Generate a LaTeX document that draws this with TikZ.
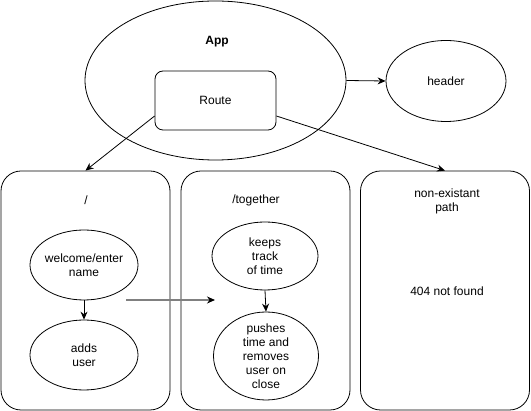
\documentclass[tikz,border=0pt]{standalone}
\usepackage{fontspec}
\setmainfont{Liberation Sans}
\usetikzlibrary{shapes.geometric,arrows.meta}

\begin{document}
\begin{tikzpicture}[x=1pt,y=-1pt,font=\fontsize{12}{14}\selectfont,
    elipse/.style={draw,ellipse,line width=0.8pt,inner sep=-6pt,align=center},
    caja/.style={draw,rounded corners=20pt,line width=0.8pt,minimum width=169pt,minimum height=239pt},
    flecha/.style={line width=0.8pt,-{Stealth[length=8pt,width=7pt]}}]
                \useasboundingbox (0,0) rectangle (531,411);
                \node[elipse,minimum width=261pt,minimum height=159pt] (app) at (215.5,80.5) {}; % app
                \node[font=\bfseries\fontsize{12}{14}\selectfont] (applabel) at (217,42) {App};
                \node[draw,rounded corners=8pt,line width=0.8pt,minimum width=121pt,minimum height=59pt] (route) at (215.5,100.5) {Route};
                \node[elipse,minimum width=120pt,minimum height=81pt] (header) at (446,81) {header};
                \foreach \nombre/\cx in {raiz/85.5,juntos/265.5,otro/445}
                \node[caja] (\nombre) at (\cx,290.5) {}; % rutas
                \node (barra) at (86,200) {/};
                \node (together) at (256,200) {/together};
                \node[align=center] (noexiste) at (447,201) {non-existant\\path};
                \node (nofound) at (447,291) {404 not found};
                \node[elipse,minimum width=108pt,minimum height=70pt] (welcome) at (84,265) {welcome/enter\\name};
                \node[elipse,minimum width=108pt,minimum height=70pt] (adds) at (84,355) {adds\\user};
                \node[elipse,minimum width=106pt,minimum height=68pt] (keeps) at (265,256) {keeps\\track\\of time};
                \node[elipse,minimum width=105pt,minimum height=88pt] (pushes) at (266,356) {pushes\\time and\\removes\\user on\\close};
                \coordinate (inicio) at (126,300);
                \coordinate (fin) at (215,300);
                \draw[flecha] (app.east) -- (header.west);
                \draw[flecha] ([yshift=-15.5pt]route.west) -- (raiz.north);
                \draw[flecha] ([yshift=-15.5pt]route.east) -- (otro.north);
                \draw[flecha] (welcome.south) -- (adds.north);
                \draw[flecha] (keeps.south) -- (pushes.north);
                \draw[line width=2pt,gray,-{Stealth[length=8pt,width=7pt,color=black]}] (inicio) -- (fin); % paso
            \end{tikzpicture}
\end{document}
